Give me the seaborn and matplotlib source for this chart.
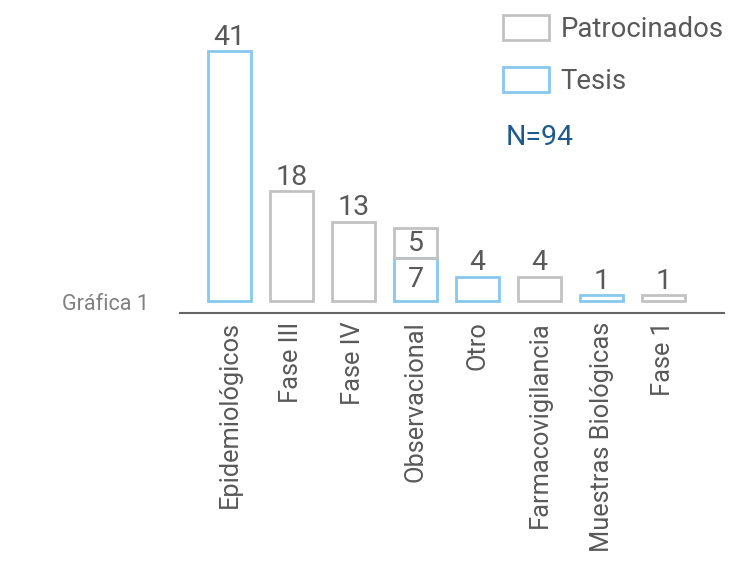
import matplotlib
matplotlib.use("Agg")
import matplotlib.pyplot as plt
from matplotlib.patches import Patch
import seaborn as sns
import pandas as pd

categories = ["Epidemiológicos", "Fase III", "Fase IV", "Observacional", "Otro",
              "Farmacovigilancia", "Muestras Biológicas", "Fase 1"]
tesis = [41, 0, 0, 7, 4, 0, 1, 0]
patrocinados = [0, 18, 13, 5, 0, 4, 0, 1]
series_names = ["Patrocinados", "Tesis"]
total_label = "N=94"
chart_label = "Gráfica 1"

GREY = "#c2c2c2"
BLUE = "#86c9ef"
TXT = "#595959"

sns.set_style("white")
plt.rcParams["font.family"] = ["Roboto", "DejaVu Sans"]

W, H = 732, 562
fig = plt.figure(figsize=(W / 100, H / 100), dpi=100)
ax_left, ax_right, ax_top, ax_bot = 180, 724, 20, 313
ax = fig.add_axes([ax_left / W, 1 - ax_bot / H, (ax_right - ax_left) / W, (ax_bot - ax_top) / H])

df = pd.DataFrame({"cat": categories, "Tesis": tesis, "Patrocinados": patrocinados})
df_t = df[df["Tesis"] > 0]
df_p = df[df["Patrocinados"] > 0]

bw = 0.694
sns.barplot(data=df_t, x="cat", y="Tesis", order=categories, fill=False, color=BLUE,
            width=bw, errorbar=None, linewidth=2, ax=ax)
sns.barplot(data=df_p, x="cat", y="Patrocinados", order=categories, fill=False, color=GREY,
            width=bw, errorbar=None, linewidth=2, ax=ax, bottom=df_p["Tesis"].values)

for p in ax.patches:
    p.set_facecolor("none")

px_per_unit = 6.1
zero_px = 301
ax.set_xlim((ax_left - 229.5) / 62, (ax_right - 229.5) / 62)
ax.set_ylim(-(ax_bot - zero_px) / px_per_unit, (zero_px - ax_top) / px_per_unit)

# value labels
for i, (t, p) in enumerate(zip(tesis, patrocinados)):
    if t > 0 and p > 0:
        ax.text(i, t / 2, str(t), ha="center", va="center", fontsize=20.5, color=TXT)
        ax.text(i, t + p / 2, str(p), ha="center", va="center", fontsize=20.5, color=TXT)
    else:
        v = t + p
        ax.annotate(str(v), (i, v), xytext=(0, 4.5), textcoords="offset points",
                    ha="center", va="baseline", fontsize=20.5, color=TXT)

for s in ["top", "right", "left"]:
    ax.spines[s].set_visible(False)
ax.spines["bottom"].set_color("#666666")
ax.spines["bottom"].set_linewidth(1.5)
ax.set_yticks([])
ax.set_xlabel("")
ax.set_ylabel("")
ax.tick_params(axis="x", length=0, pad=6, labelsize=18.3, labelcolor=TXT, labelrotation=90)

handles = [Patch(facecolor="none", edgecolor=GREY, linewidth=2),
           Patch(facecolor="none", edgecolor=BLUE, linewidth=2)]
leg = fig.legend(handles, series_names, loc="upper left",
                 bbox_to_anchor=(503 / W, 1 - 15 / H), borderaxespad=0, borderpad=0,
                 frameon=False, fontsize=19.8, handlelength=1.68, handleheight=1.0,
                 handletextpad=0.42, labelspacing=0.9)
for t in leg.get_texts():
    t.set_color(TXT)

fig.text(506 / W, 1 - 145 / H, total_label, fontsize=20.5, color="#1c5a8c", va="baseline")
fig.text(62 / W, 1 - 305 / H, chart_label, fontsize=15.5, color="#808080", va="center")

fig.savefig("out.png", dpi=100, facecolor="white")
